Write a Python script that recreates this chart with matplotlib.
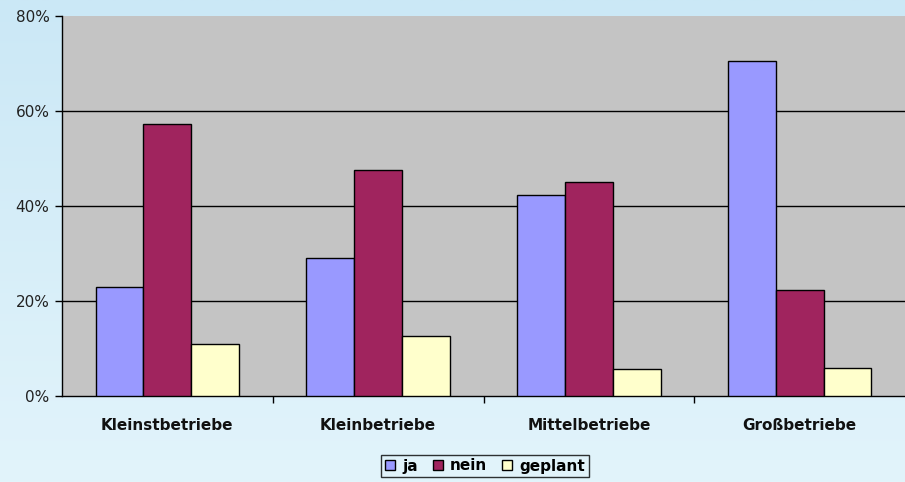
import numpy as np
import matplotlib
matplotlib.use('Agg')
from matplotlib import pyplot as plt
from matplotlib.ticker import FixedLocator, FuncFormatter

# Data (percent)
categories = ['Kleinstbetriebe', 'Kleinbetriebe', 'Mittelbetriebe', 'Großbetriebe']
ja = [22.9, 29.1, 42.3, 70.5]
nein = [57.3, 47.6, 45.1, 22.3]
geplant = [10.9, 12.6, 5.7, 5.9]
series_names = ['ja', 'nein', 'geplant']

colors = ['#9999FF', '#A0245E', '#FFFFCC']

fig = plt.figure(figsize=(9.05, 4.82), dpi=100)
fig.patch.set_facecolor('#d4eef9')

# light blue gradient background
grad = np.linspace(0, 1, 256).reshape(-1, 1)
bg = fig.add_axes([0, 0, 1, 1], zorder=-10)
bg.imshow(grad, aspect='auto', cmap=matplotlib.colors.LinearSegmentedColormap.from_list(
    'bg', ['#cbe8f6', '#e2f4fb']), extent=[0, 1, 0, 1])
bg.axis('off')

ax = fig.add_axes([62 / 905, 86 / 482, 1 - 62 / 905, 380 / 482])
ax.set_facecolor('#c4c4c4')

x = np.arange(len(categories))
w = 0.227
for i, (vals, name) in enumerate(zip([ja, nein, geplant], series_names)):
    ax.bar(x + (i - 1) * w, vals, width=w, color=colors[i], edgecolor='black',
           linewidth=1.0, label=name, zorder=3)

ax.set_xlim(-0.5, len(categories) - 0.5)
ax.set_ylim(0, 80)
ax.set_yticks([0, 20, 40, 60, 80])
ax.yaxis.set_major_formatter(FuncFormatter(lambda v, p: f'{int(v)}%'))

# gridlines
for y in [20, 40, 60]:
    ax.axhline(y, color='black', linewidth=1.0, zorder=1)

ax.set_xticks(x)
ax.set_xticklabels(categories, fontweight='bold', fontsize=11, color='#111111')
ax.tick_params(axis='x', which='major', length=0, pad=16)
ax.xaxis.set_minor_locator(FixedLocator(np.arange(0.5, len(categories) - 0.5, 1)))
ax.tick_params(axis='x', which='minor', length=5, width=1, direction='out')
ax.tick_params(axis='y', length=5, width=1, direction='out', labelsize=11, pad=4,
               labelcolor='#222222')

for s in ['top', 'right']:
    ax.spines[s].set_visible(False)
ax.spines['left'].set_linewidth(1)
ax.spines['bottom'].set_linewidth(1)

leg = fig.legend(loc='center', bbox_to_anchor=(485 / 905, 1 - 466 / 482), ncol=3,
                 frameon=True, fancybox=False, edgecolor='black', facecolor='none',
                 prop={'weight': 'bold', 'size': 11}, handlelength=0.65, handleheight=0.65,
                 handletextpad=0.45, columnspacing=1.0, borderpad=0.25)
leg.get_frame().set_linewidth(1)

fig.savefig('out.png', dpi=100)
